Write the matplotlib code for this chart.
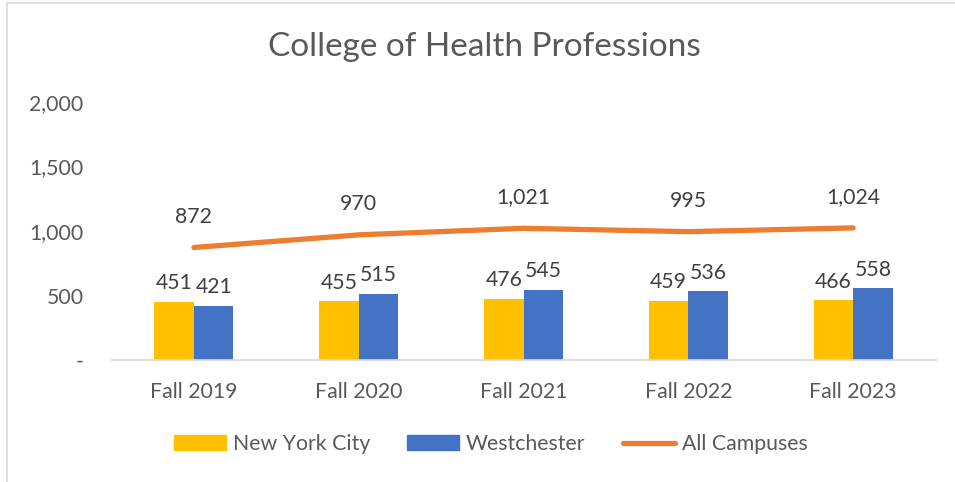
import matplotlib
matplotlib.use("Agg")
import matplotlib.pyplot as plt
import numpy as np
from matplotlib.lines import Line2D
from matplotlib.patches import Patch

categories = ["Fall 2019", "Fall 2020", "Fall 2021", "Fall 2022", "Fall 2023"]
nyc = [451, 455, 476, 459, 466]
westchester = [421, 515, 545, 536, 558]
all_campuses = [872, 970, 1021, 995, 1024]
yticks = [0, 500, 1000, 1500, 2000]
ytick_labels = ["-", "500", "1,000", "1,500", "2,000"]

plt.rcParams['font.family'] = ['Lato', 'DejaVu Sans']
TXT = "#595959"
FS = 15.3
W, H = 955, 482
fig = plt.figure(figsize=(W / 100, H / 100), dpi=100)
ax = fig.add_axes([111.5 / W, 1 - 360 / H, (935.5 - 111.5) / W, (360 - 102) / H])

x = np.arange(len(categories))
bw = 0.24
ax.bar(x - bw / 2, nyc, bw, color="#FFC000", zorder=2)
ax.bar(x + bw / 2, westchester, bw, color="#4472C4", zorder=2)
ax.plot(x, all_campuses, color="#ED7D31", lw=3.8, solid_capstyle="round", zorder=3)

for i in range(len(x)):
    ax.annotate(f"{nyc[i]:,}", (x[i] - bw / 2, nyc[i]), xytext=(0, 6), textcoords="offset points",
                ha="center", va="bottom", fontsize=FS, color="#404040")
    ax.annotate(f"{westchester[i]:,}", (x[i] + bw / 2, westchester[i]), xytext=(0, 6), textcoords="offset points",
                ha="center", va="bottom", fontsize=FS, color="#404040")
    ax.annotate(f"{all_campuses[i]:,}", (x[i], all_campuses[i]), xytext=(0, 15), textcoords="offset points",
                ha="center", va="bottom", fontsize=FS, color="#404040")

ax.set_xlim(-0.5, len(x) - 0.5)
ax.set_ylim(0, 2000)
ax.set_yticks(yticks)
ax.set_yticklabels(ytick_labels)
ax.set_xticks(x)
ax.set_xticklabels(categories)
ax.tick_params(axis="both", length=0, labelsize=FS, colors=TXT)
ax.tick_params(axis="y", pad=20)
ax.tick_params(axis="x", pad=16)
for s in ["top", "right", "left"]:
    ax.spines[s].set_visible(False)
ax.spines["bottom"].set_color("#D9D9D9")
ax.spines["bottom"].set_linewidth(1.2)

fig.text(484 / W, 1 - 47 / H, "College of Health Professions", ha="center", va="center",
         fontsize=24, color=TXT)

handles = [Patch(color="#FFC000"), Patch(color="#4472C4"),
           Line2D([0], [0], color="#ED7D31", lw=3.8, solid_capstyle="round")]
labels = ["New York City", "Westchester", "All Campuses"]
fig.legend(handles, labels, loc="center", bbox_to_anchor=(490.5 / W, 1 - 444 / H), ncol=3,
           frameon=False, fontsize=FS, labelcolor=TXT, handlelength=2.45, handleheight=0.7,
           columnspacing=1.74, handletextpad=0.33)

# border on top and left
fig.add_artist(Line2D([7 / W, 7 / W], [0, 1 - 3 / H], color="#D9D9D9", lw=1.2, transform=fig.transFigure))
fig.add_artist(Line2D([7 / W, 1], [1 - 3 / H, 1 - 3 / H], color="#D9D9D9", lw=1.2, transform=fig.transFigure))

fig.savefig("out.png", dpi=100)
